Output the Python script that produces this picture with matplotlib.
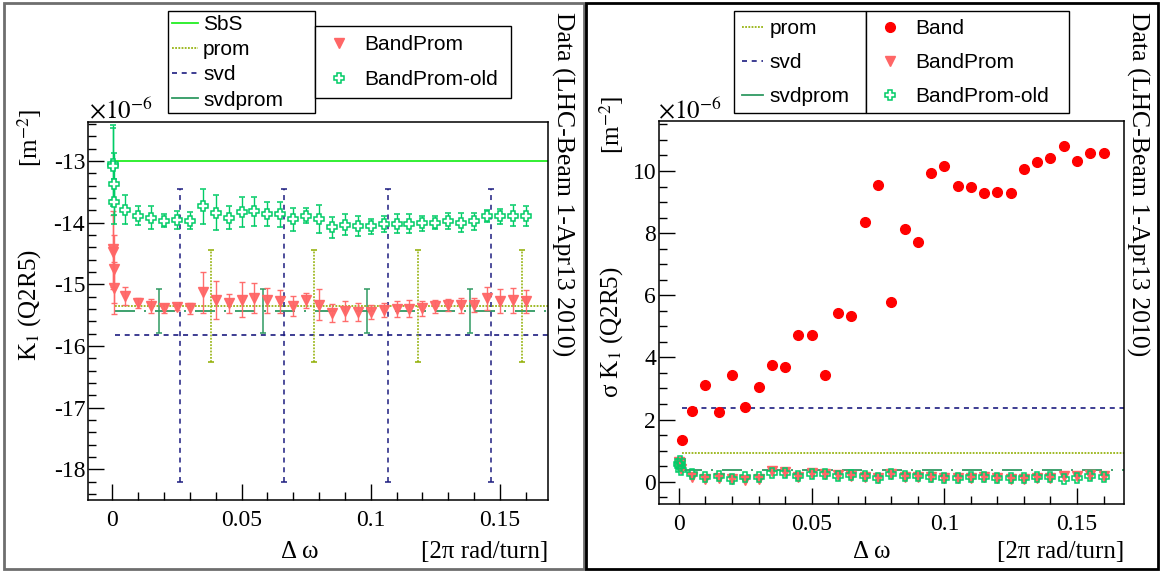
import matplotlib
matplotlib.use('Agg')
import matplotlib.pyplot as plt
from matplotlib.lines import Line2D
from matplotlib.patches import Rectangle
from matplotlib.ticker import MultipleLocator, FuncFormatter

plt.rcParams['font.family'] = ['Liberation Serif', 'DejaVu Serif']
plt.rcParams['mathtext.fontset'] = 'stix'
plt.rcParams['lines.scale_dashes'] = False

# tune scan points [2pi rad/turn]
x_near = [0.0002, 0.0004, 0.0006, 0.0008]
x_scan = [0.005, 0.01, 0.015, 0.02, 0.025, 0.03, 0.035, 0.04, 0.045, 0.05,
          0.055, 0.06, 0.065, 0.07, 0.075, 0.08, 0.085, 0.09, 0.095, 0.1,
          0.105, 0.11, 0.115, 0.12, 0.125, 0.13, 0.135, 0.14, 0.145, 0.15,
          0.155, 0.16]

# BandProm  K1 [1e-6 m^-2] and error
bp_near = [-14.43, -14.48, -14.75, -15.06]
bp_near_err = [0.62, 0.60, 0.55, 0.42]
bp_k1 = [-15.19, -15.31, -15.35, -15.39, -15.37, -15.39, -15.13, -15.26, -15.31, -15.25,
         -15.22, -15.26, -15.28, -15.35, -15.26, -15.33, -15.47, -15.44, -15.45, -15.45,
         -15.42, -15.40, -15.40, -15.39, -15.36, -15.34, -15.34, -15.34, -15.23, -15.27,
         -15.26, -15.28]
bp_err = [0.14, 0.08, 0.11, 0.07, 0.05, 0.09, 0.33, 0.31, 0.15, 0.29,
          0.24, 0.20, 0.18, 0.16, 0.12, 0.25, 0.15, 0.16, 0.14, 0.12,
          0.12, 0.13, 0.14, 0.12, 0.10, 0.10, 0.12, 0.11, 0.19, 0.19,
          0.20, 0.18]

# BandProm-old
old_near = [-13.05, -13.08, -13.38, -13.66]
old_near_err = [0.58, 0.66, 0.50, 0.36]
old_k1 = [-13.79, -13.89, -13.92, -13.97, -13.96, -13.97, -13.74, -13.84, -13.92, -13.83,
          -13.82, -13.86, -13.87, -13.95, -13.89, -13.94, -14.08, -14.04, -14.06, -14.06,
          -14.03, -14.02, -14.02, -14.01, -14.00, -13.98, -14.00, -13.98, -13.89, -13.90,
          -13.89, -13.90]
old_err = [0.24, 0.15, 0.18, 0.10, 0.14, 0.14, 0.28, 0.28, 0.18, 0.24,
           0.24, 0.19, 0.20, 0.18, 0.12, 0.23, 0.17, 0.17, 0.16, 0.12,
           0.13, 0.15, 0.15, 0.12, 0.11, 0.13, 0.15, 0.14, 0.10, 0.12,
           0.17, 0.16]

# Band (only sigma shown)
band_x = [0.001, 0.005, 0.01, 0.015, 0.02, 0.025, 0.03, 0.035, 0.04, 0.045, 0.05,
          0.055, 0.06, 0.065, 0.07, 0.075, 0.08, 0.085, 0.09, 0.095, 0.1,
          0.105, 0.11, 0.115, 0.12, 0.125, 0.13, 0.135, 0.14, 0.145, 0.15,
          0.155, 0.16]
band_sigma = [1.34, 2.29, 3.12, 2.24, 3.42, 2.39, 3.04, 3.75, 3.69, 4.73, 4.73,
              3.44, 5.44, 5.34, 8.37, 9.55, 5.78, 8.12, 7.72, 9.93, 10.15,
              9.51, 9.47, 9.30, 9.34, 9.28, 10.05, 10.28, 10.43, 10.80, 10.33,
              10.57, 10.59]

# constant results
sbs_k1 = -13.0
prom_k1, prom_err = -15.355, 0.91
svd_k1, svd_err = -15.83, 2.37
svdprom_k1, svdprom_err = -15.435, 0.36
line_x = [0.001, 0.17]
svd_xbar = [0.0262, 0.0664, 0.1066, 0.1467]
prom_xbar = [0.0382, 0.0782, 0.1184, 0.1586]
svdprom_xbar = [0.0182, 0.0582, 0.0985, 0.1384]

c_sbs = '#22ee22'
c_prom = '#8fae00'
c_svd = '#1c1c80'
c_svdprom = '#2f9a62'
c_bp = '#ff6666'
c_old = '#00cc66'
c_band = '#ff0000'
ls_svd = (0, (3.6, 3.4))
ls_prom = (0, (1.3, 1.0))
ls_svdprom = (0, (14.4, 6.5, 1.4, 6.5))

W, H = 1161, 571
fig = plt.figure(figsize=(W / 100, H / 100), dpi=100)


def box(x0, y0, x1, y1):
    return [x0 / W, 1 - y1 / H, (x1 - x0) / W, (y1 - y0) / H]


def style_axes(ax):
    ax.tick_params(which='both', direction='in', top=False, right=False, labelsize=17)
    ax.tick_params(which='major', length=11.5, width=1)
    ax.tick_params(which='minor', length=5.8, width=1)
    ax.tick_params(axis='x', pad=7)
    ax.tick_params(axis='y', pad=2)
    ax.xaxis.set_major_locator(MultipleLocator(0.05))
    ax.xaxis.set_minor_locator(MultipleLocator(0.01))
    ax.xaxis.set_major_formatter(FuncFormatter(lambda v, p: '%g' % round(v, 4)))
    ax.yaxis.set_major_formatter(FuncFormatter(lambda v, p: '%g' % round(v, 4)))
    for s in ax.spines.values():
        s.set_linewidth(1.1)


def vbars(ax, xs, y, err, color, ls):
    eb = ax.errorbar(xs, [y] * len(xs), yerr=err, fmt='none', ecolor=color,
                     elinewidth=1.1, capsize=2.5, capthick=1.1)
    eb[2][0].set_linestyle(ls)


# ---------------- left: K1 ----------------
ax1 = fig.add_axes(box(88, 122, 548, 500))
ax1.plot(line_x, [sbs_k1] * 2, color=c_sbs, lw=1.3)
ax1.plot(line_x, [prom_k1] * 2, color=c_prom, lw=1.2, ls=ls_prom)
ax1.plot(line_x, [svd_k1] * 2, color=c_svd, lw=1.2, ls=ls_svd)
ax1.plot(line_x, [svdprom_k1] * 2, color=c_svdprom, lw=1.3, ls=ls_svdprom)
vbars(ax1, prom_xbar, prom_k1, prom_err, c_prom, ls_prom)
vbars(ax1, svd_xbar, svd_k1, svd_err, c_svd, ls_svd)
vbars(ax1, svdprom_xbar, svdprom_k1, svdprom_err, c_svdprom, 'solid')

ax1.errorbar(x_near + x_scan, bp_near + bp_k1, yerr=bp_near_err + bp_err, fmt='v',
             color=c_bp, ms=6.5, elinewidth=1, capsize=2.5, capthick=1, alpha=0.95)
ax1.errorbar(x_near + x_scan, old_near + old_k1, yerr=old_near_err + old_err, fmt='P',
             color=c_old, mfc='white', mec=c_old, mew=1.1, ms=7.5, elinewidth=1,
             capsize=2.5, capthick=1)

ax1.set_xlim(-0.0094, 0.1686)
ax1.set_ylim(-18.5, -12.37)
ax1.yaxis.set_major_locator(MultipleLocator(1))
ax1.yaxis.set_minor_locator(MultipleLocator(0.2))
style_axes(ax1)

# ---------------- right: sigma K1 ----------------
ax2 = fig.add_axes(box(659, 121, 1124, 504))
ax2.plot(line_x, [prom_err] * 2, color=c_prom, lw=1.2, ls=ls_prom)
ax2.plot(line_x, [svd_err] * 2, color=c_svd, lw=1.2, ls=ls_svd)
ax2.plot(line_x, [svdprom_err] * 2, color=c_svdprom, lw=1.3, ls=ls_svdprom)
ax2.plot(band_x, band_sigma, 'o', color=c_band, ms=7)
ax2.plot(x_near + x_scan, bp_near_err + bp_err, 'v', color=c_bp, ms=6.5)
ax2.plot(x_near + x_scan, old_near_err + old_err, 'P', color=c_old, mfc='none',
         mew=1.1, ms=7.5)
ax2.set_xlim(-0.0075, 0.1677)
ax2.set_ylim(-0.72, 11.61)
ax2.yaxis.set_major_locator(MultipleLocator(2))
ax2.yaxis.set_minor_locator(MultipleLocator(0.5))
style_axes(ax2)

# ---------------- texts ----------------
for xl, xr in [(300, 548), (872, 1124)]:
    fig.text(xl / W, 1 - 552 / H, '\u0394 \u03c9', fontsize=18, ha='center', va='center')
    fig.text(xr / W, 1 - 552 / H, '[2\u03c0 rad/turn]', fontsize=18, ha='right', va='center')

fig.text(89 / W, 1 - 118 / H, r'$\times10^{-6}$', fontsize=18, ha='left', va='baseline')
fig.text(658 / W, 1 - 118 / H, r'$\times10^{-6}$', fontsize=18, ha='left', va='baseline')

fig.text(30 / W, 1 - 305 / H, r'K$_1$ (Q2R5)', fontsize=18, rotation=90, ha='center', va='center')
fig.text(30 / W, 1 - 138 / H, r'[m$^{-2}$]', fontsize=18, rotation=90, ha='center', va='center')
fig.text(612 / W, 1 - 332 / H, '\u03c3 ' + r'K$_1$ (Q2R5)', fontsize=18, rotation=90,
         ha='center', va='center')
fig.text(612 / W, 1 - 125 / H, r'[m$^{-2}$]', fontsize=18, rotation=90, ha='center', va='center')

for xc in [563, 1138]:
    fig.text(xc / W, 1 - 12 / H, 'Data (LHC-Beam 1-Apr13 2010)', fontsize=18.5,
             rotation=270, ha='center', va='top')

# ---------------- legends ----------------
h_sbs = Line2D([], [], color=c_sbs, lw=1.3)
h_prom = Line2D([], [], color=c_prom, lw=1.2, ls=ls_prom)
h_svd = Line2D([], [], color=c_svd, lw=1.2, ls=ls_svd)
h_svdprom = Line2D([], [], color=c_svdprom, lw=1.3)
h_band = Line2D([], [], color=c_band, marker='o', ls='none', ms=7)
h_bp = Line2D([], [], color=c_bp, marker='v', ls='none', ms=6.5)
h_old = Line2D([], [], color=c_old, marker='P', mfc='white', mew=1.1, ls='none', ms=7.5)

leg_kw = dict(loc='upper left', mode='expand', borderaxespad=0, fancybox=False,
              framealpha=1, edgecolor='black', prop={'family': 'Liberation Sans', 'size': 15})


def legend(handles, labels, x0, y0, x1, **kw):
    lg = fig.legend(handles, labels, bbox_to_anchor=(x0 / W, 1 - y0 / H, (x1 - x0) / W, 0.001),
                    **leg_kw, **kw)
    lg.get_frame().set_linewidth(1.0)
    return lg


legend([h_sbs, h_prom, h_svd, h_svdprom], ['SbS', 'prom', 'svd', 'svdprom'], 168, 12, 315,
       borderpad=0.19, labelspacing=0.29, handlelength=1.25, handletextpad=0.24)
legend([h_bp, h_old], ['BandProm', 'BandProm-old'], 315, 27, 511,
       borderpad=0.43, labelspacing=0.77, handlelength=1.44, handletextpad=0.48)
legend([h_prom, h_svd, h_svdprom], ['prom', 'svd', 'svdprom'], 734, 12, 866,
       borderpad=0.36, labelspacing=0.72, handlelength=1.05, handletextpad=0.29)
legend([h_band, h_bp, h_old], ['Band', 'BandProm', 'BandProm-old'], 866, 12, 1069,
       borderpad=0.36, labelspacing=0.72, handlelength=1.6, handletextpad=0.41)

# pad frames
fig.add_artist(Rectangle((4 / W, 2 / H), 580 / W, 566 / H, transform=fig.transFigure,
                         fill=False, edgecolor='#6e6e6e', lw=2))
fig.add_artist(Rectangle((586 / W, 2 / H), 572 / W, 566 / H, transform=fig.transFigure,
                         fill=False, edgecolor='black', lw=2))

fig.savefig('out.png', dpi=100)
